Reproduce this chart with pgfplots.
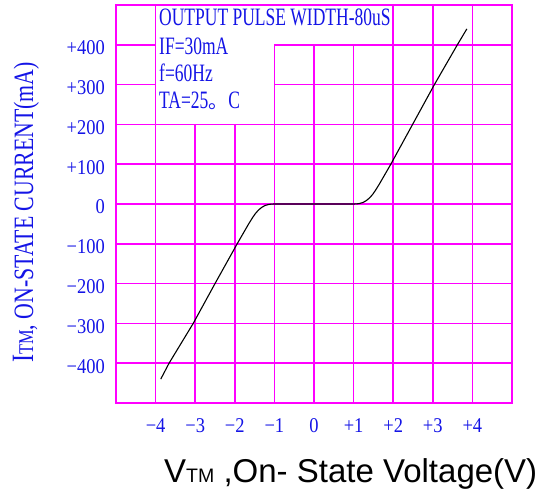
\documentclass[border=0pt]{standalone}
\usepackage{pgfplots}
\pgfplotsset{compat=1.18}
\usepackage{fontspec}
\setmainfont{Liberation Serif}
\newfontfamily\boxfont[FakeStretch=0.7]{Liberation Serif}
\newfontfamily\ylabfont[FakeStretch=0.78]{Liberation Serif}
\newfontfamily\tickfont[FakeStretch=0.88]{Liberation Serif}
\newfontfamily\cjk{Noto Sans CJK SC}
\newfontfamily\xlabfont{Liberation Sans}
\definecolor{gridc}{RGB}{255,0,255}
\definecolor{tblue}{RGB}{20,20,230}
\begin{document}
\begin{tikzpicture}
\useasboundingbox (0pt,0pt) rectangle (538pt,490pt);
\begin{axis}[
  at={(116pt,87pt)}, anchor=south west,
  scale only axis, width=396pt, height=398pt,
  xmin=-5, xmax=5, ymin=-500, ymax=500,
  xtick={-4,-3,-2,-1,0,1,2,3,4},
  ytick={-400,-300,-200,-100,0,100,200,300,400},
  xticklabels={−4,−3,−2,−1,0,+1,+2,+3,+4},
  yticklabels={−400,−300,−200,−100,0,+100,+200,+300,+400},
  grid=major,
  major grid style={draw=gridc, line width=1.5pt},
  axis line style={draw=gridc, line width=1.5pt},
  major tick length=0pt,
  tick style={draw=none},
  clip=false,
  xticklabel style={anchor=base, inner sep=0pt, yshift=-30pt, text=tblue, font=\tickfont\fontsize{21}{21}\selectfont},
  yticklabel style={anchor=base east, inner sep=0pt, xshift=-11pt, yshift=-10pt, text=tblue, font=\tickfont\fontsize{21}{21}\selectfont},
]
\fill[white] (axis cs:-4,200) -- (axis cs:-1,200) -- (axis cs:-1,400) -- (axis cs:2,400) -- (axis cs:2,500) -- (axis cs:-4,500) -- cycle;
\draw[gridc, line width=1.5pt] (axis cs:-4,200) -- (axis cs:-4,500);
\draw[gridc, line width=1.5pt] (axis cs:-4,200) -- (axis cs:-1,200) -- (axis cs:-1,400) -- (axis cs:2,400) -- (axis cs:2,500);
\draw[gridc, line width=1.5pt] (axis cs:-5,500) -- (axis cs:5,500);
\addplot[black, line width=1.1pt] coordinates {
(-3.87,-440) (-3.66,-400) (-3.05,-300) (-2.50,-200) (-1.94,-100) (-1.65,-50)
(-1.55,-34) (-1.48,-24) (-1.40,-15) (-1.32,-8.5) (-1.24,-4) (-1.16,-1.5) (-1.08,-0.3) (-1.0,0)
(1.0,0) (1.08,0.3) (1.16,1.5) (1.24,4) (1.32,8.5) (1.40,15) (1.48,24) (1.55,34)
(1.65,50) (1.94,100) (2.49,200) (3.04,300) (3.62,400) (3.86,440)
};
\end{axis}
% text box
\begin{scope}[every node/.style={anchor=base west, inner sep=0pt, text=tblue, font=\boxfont\fontsize{25}{25}\selectfont}]
\node at (159pt,464pt) {OUTPUT PULSE WIDTH-80uS};
\node at (159pt,435pt) {IF=30mA};
\node at (159pt,408pt) {f=60Hz};
\node at (159pt,381pt) {TA=25{\cjk\fontsize{20}{20}\selectfont 。}C};
\end{scope}
% y label
\node[anchor=base west, inner sep=0pt, rotate=90, text=tblue, font=\ylabfont\fontsize{28}{28}\selectfont] at (33pt,127pt)
 {{\fontsize{31}{31}\selectfont I}{\fontsize{21}{21}\selectfont TM}, ON-STATE CURRENT(mA)};
% x label
\node[anchor=base west, inner sep=0pt, text=black, font=\xlabfont\fontsize{33}{33}\selectfont] at (164pt,8pt)
 {V{\fontsize{19.5}{19.5}\selectfont TM} ,On- State Voltage(V)};
\end{tikzpicture}
\end{document}
